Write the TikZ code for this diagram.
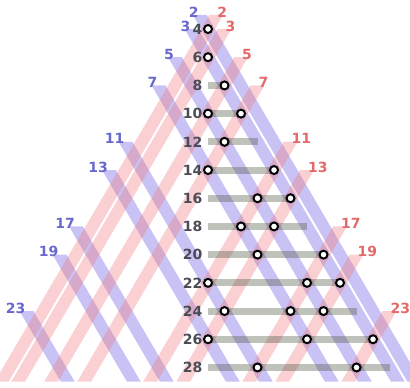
\documentclass[tikz,border=0pt]{standalone}
\usepackage{fontspec}
\setmainfont{DejaVu Sans}
\usepackage{tikz}
\usetikzlibrary{calc}
\definecolor{pblue}{RGB}{120,105,230}
\definecolor{pred}{RGB}{240,120,125}
\definecolor{lblue}{RGB}{105,105,205}
\definecolor{lred}{RGB}{228,105,105}
\definecolor{evengray}{RGB}{75,75,85}
\definecolor{bargray}{RGB}{70,80,60}
\tikzset{
	blueband/.style={fill=pblue,opacity=0.4},
	redband/.style={fill=pred,opacity=0.35},
	sumbar/.style={fill=bargray,opacity=0.35},
	partition/.style={circle,draw=black,fill=white,line width=2pt,inner sep=0pt,minimum size=8pt},
	numfont/.style={font=\bfseries\fontsize{14}{14}\selectfont,inner sep=1pt},
	bluelabel/.style={numfont,text=lblue,anchor=east,yshift=3pt},
	redlabel/.style={numfont,text=lred,anchor=west,yshift=3pt},
	evenlabel/.style={numfont,text=evengray,anchor=east}
}

\begin{document}
\begin{tikzpicture}[x=8.25pt,y=-14.1pt]
	\useasboundingbox (-25.21,1.943) rectangle (24.48,29.39);
	\def\hw{0.84} % half width of a band
	\def\nmax{29}
	% blue bands: p fixed
	\foreach \p in {2,3,5,7,11,13,17,19,23} {
		\pgfmathsetmacro{\dt}{1-\p}
		\pgfmathsetmacro{\nt}{\p+1}
		\pgfmathsetmacro{\db}{\nmax-2*\p}
		\coordinate (bt\p) at (\dt,\nt);
		\fill[blueband] (\dt-\hw,\nt) -- (\dt+\hw,\nt) -- (\db+\hw,\nmax) -- (\db-\hw,\nmax) -- cycle;
		\node[bluelabel] (lb\p) at (bt\p) {\p};
	}
	% red bands: q fixed
	\foreach \q in {2,3,5,7,11,13,17,19,23} {
		\pgfmathsetmacro{\dt}{\q-1}
		\pgfmathsetmacro{\nt}{\q+1}
		\pgfmathsetmacro{\db}{2*\q-\nmax}
		\coordinate (rt\q) at (\dt,\nt);
		\fill[redband] (\dt-\hw,\nt) -- (\dt+\hw,\nt) -- (\db+\hw,\nmax) -- (\db-\hw,\nmax) -- cycle;
		\node[redlabel] (lr\q) at (rt\q) {\q};
	}
	% even numbers and their bars
	\foreach \n in {4,6,...,28} {
		\node[evenlabel] (e\n) at (-0.55,\n) {\n};
	}
	\foreach \n in {8,10,...,28} {
		\fill[sumbar] (0,\n-0.25) rectangle (\n-6,\n+0.25);
	}
	% n = p + q
	\foreach \p/\q in {2/2,3/3,3/5,3/7,5/5,5/7,3/11,7/7,3/13,5/11,5/13,7/11,3/17,7/13,
		3/19,5/17,11/11,5/19,7/17,11/13,3/23,7/19,13/13,5/23,11/17} {
		\node[partition] (s\p-\q) at (\q-\p,\p+\q) {};
	}
\end{tikzpicture}
\end{document}
